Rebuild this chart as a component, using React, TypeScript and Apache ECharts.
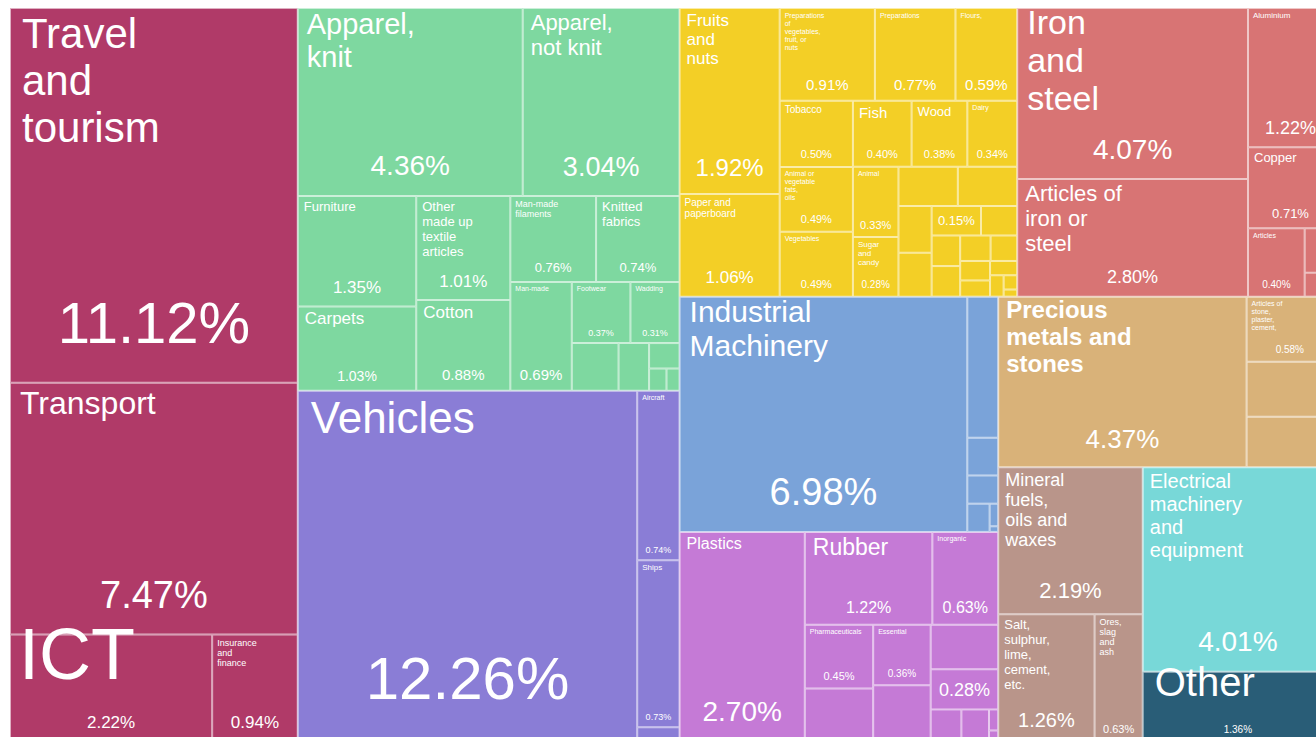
import React, { useEffect, useRef } from "react";
import * as echarts from "echarts";

// ---------------- data (share of exports, %) ----------------
const servicesNames = ["Travel and tourism", "Transport", "ICT", "Insurance and finance"];
const servicesValues = [11.12, 7.47, 2.22, 0.94];

const textileNames = [
  "Apparel, knit", "Apparel, not knit", "Furniture", "Carpets", "Other made up textile articles",
  "Cotton", "Man-made filaments", "Knitted fabrics", "Man-made staple fibres", "Footwear", "Wadding",
  "Special woven fabrics", "Impregnated textile fabrics", "Wool", "Headgear", "Umbrellas",
];
const textileValues = [4.36, 3.04, 1.35, 1.03, 1.01, 0.88, 0.76, 0.74, 0.69, 0.37, 0.31, 0.23, 0.15, 0.08, 0.04, 0.03];

const vehicleNames = ["Vehicles", "Aircraft", "Ships", "Railway"];
const vehicleValues = [12.26, 0.74, 0.73, 0.06];

const agriNames = [
  "Fruits and nuts", "Paper and paperboard", "Preparations of vegetables, fruit, or nuts", "Preparations",
  "Flours,", "Tobacco", "Animal or vegetable fats, oils", "Vegetables", "Fish", "Wood", "Dairy", "Animal",
  "Sugar and candy", "Beverages", "Coffee and tea", "Books", "Meat", "Cereals", "Live plants", "Cocoa",
  "Oil seeds", "Meat preparations", "Printed matter", "Straw", "Live animals", "Cork", "Gums and resins",
  "Pulp of wood", "Vegetable products",
];
const agriValues = [
  1.92, 1.06, 0.91, 0.77, 0.59, 0.5, 0.49, 0.49, 0.4, 0.38, 0.34, 0.33, 0.28, 0.24, 0.24, 0.16, 0.15, 0.15,
  0.11, 0.09, 0.09, 0.08, 0.07, 0.06, 0.05, 0.04, 0.03, 0.02, 0.01,
];

const metalNames = ["Iron and steel", "Articles of iron or steel", "Aluminium", "Copper", "Articles", "Tools", "Zinc", "Nickel"];
const metalValues = [4.07, 2.8, 1.22, 0.71, 0.4, 0.13, 0.04, 0.03];

const machineryNames = ["Industrial Machinery", "Optical and medical instruments", "Arms", "Clocks", "Musical instruments", "Toys", "Other machinery"];
const machineryValues = [6.98, 0.45, 0.12, 0.09, 0.065, 0.02, 0.005];

const chemicalNames = [
  "Plastics", "Rubber", "Inorganic", "Pharmaceuticals", "Organic chemicals", "Essential oils", "Soaps",
  "Paints", "Miscellaneous chemicals", "Fertilizers", "Tanning extracts", "Photographic goods", "Explosives",
];
const chemicalValues = [2.7, 1.22, 0.63, 0.45, 0.37, 0.36, 0.33, 0.31, 0.28, 0.1, 0.09, 0.02, 0.01];

const stoneNames = ["Precious metals and stones", "Articles of stone, plaster, cement,", "Ceramic products", "Glass"];
const stoneValues = [4.37, 0.58, 0.49, 0.45];

const mineralNames = ["Mineral fuels, oils and waxes", "Salt, sulphur, lime, cement, etc.", "Ores, slag and ash"];
const mineralValues = [2.19, 1.26, 0.63];

const electronicsNames = ["Electrical machinery and equipment"];
const electronicsValues = [4.01];

const otherNames = ["Other"];
const otherValues = [1.36];

// ---------------- styles ----------------
const COLORS = {
  services: "#b03a68",
  textiles: "#7ed8a0",
  vehicles: "#8a7dd6",
  agri: "#f3cf26",
  machinery: "#7aa3d9",
  metals: "#d87474",
  stone: "#d9b279",
  chemicals: "#c57ad6",
  minerals: "#b9958a",
  electronics: "#78d8d8",
  other: "#295d77",
};
const T = "rgba(0,0,0,0)";
const FONT = "'Liberation Sans', Arial, Helvetica, sans-serif";

type LabelStyle = { text?: string; name: number; pct: number; bold?: boolean; padL?: number; dy?: number };
const labelStyles: Record<string, LabelStyle> = {
  "Travel and tourism": { text: "Travel\nand\ntourism", name: 42, pct: 58 },
  Transport: { name: 32, pct: 38 },
  ICT: { name: 72, pct: 17, padL: 8, dy: -23 },
  "Insurance and finance": { text: "Insurance\nand\nfinance", name: 9, pct: 17 },
  "Apparel, knit": { text: "Apparel,\nknit", name: 29, pct: 28, dy: -3 },
  "Apparel, not knit": { text: "Apparel,\nnot knit", name: 22, pct: 27 },
  Furniture: { name: 13, pct: 17 },
  Carpets: { name: 17, pct: 14 },
  "Other made up textile articles": { text: "Other\nmade up\ntextile\narticles", name: 13, pct: 17 },
  Cotton: { name: 17, pct: 15 },
  "Man-made filaments": { text: "Man-made\nfilaments", name: 9, pct: 13 },
  "Knitted fabrics": { text: "Knitted\nfabrics", name: 13, pct: 13 },
  "Man-made staple fibres": { text: "Man-made", name: 7, pct: 15 },
  Footwear: { name: 7, pct: 9 },
  Wadding: { name: 7, pct: 9 },
  Vehicles: { name: 44, pct: 60 },
  Aircraft: { name: 7, pct: 9 },
  Ships: { name: 8, pct: 9 },
  "Fruits and nuts": { text: "Fruits\nand\nnuts", name: 17, pct: 24 },
  "Paper and paperboard": { text: "Paper and\npaperboard", name: 10, pct: 17 },
  "Preparations of vegetables, fruit, or nuts": { text: "Preparations\nof\nvegetables,\nfruit, or\nnuts", name: 7, pct: 15 },
  Preparations: { name: 7, pct: 15 },
  "Flours,": { name: 7, pct: 15 },
  Tobacco: { name: 10, pct: 11 },
  "Animal or vegetable fats, oils": { text: "Animal or\nvegetable\nfats,\noils", name: 7, pct: 11 },
  Vegetables: { name: 7, pct: 11 },
  Fish: { name: 15, pct: 11 },
  Wood: { name: 13, pct: 11 },
  Dairy: { name: 7, pct: 11 },
  Animal: { name: 7, pct: 11 },
  "Sugar and candy": { text: "Sugar\nand\ncandy", name: 8, pct: 10 },
  Cereals: { name: 0, pct: 13 },
  "Industrial Machinery": { text: "Industrial\nMachinery", name: 30, pct: 38, dy: -4 },
  Plastics: { name: 16, pct: 28 },
  Rubber: { name: 23, pct: 16 },
  Inorganic: { name: 7, pct: 16 },
  Pharmaceuticals: { name: 7, pct: 11 },
  "Essential oils": { text: "Essential", name: 7, pct: 10 },
  "Miscellaneous chemicals": { name: 0, pct: 18 },
  "Iron and steel": { text: "Iron\nand\nsteel", name: 34, pct: 28, dy: -7 },
  "Articles of iron or steel": { text: "Articles of\niron or\nsteel", name: 22, pct: 18 },
  Aluminium: { name: 8, pct: 18 },
  Copper: { name: 13, pct: 13 },
  Articles: { name: 7, pct: 10 },
  "Precious metals and stones": { text: "Precious\nmetals and\nstones", name: 24, pct: 26, bold: true, dy: -3 },
  "Articles of stone, plaster, cement,": { text: "Articles of\nstone,\nplaster,\ncement,", name: 7, pct: 10 },
  "Mineral fuels, oils and waxes": { text: "Mineral\nfuels,\noils and\nwaxes", name: 18, pct: 22 },
  "Salt, sulphur, lime, cement, etc.": { text: "Salt,\nsulphur,\nlime,\ncement,\netc.", name: 13, pct: 20 },
  "Ores, slag and ash": { text: "Ores,\nslag\nand\nash", name: 9, pct: 11 },
  "Electrical machinery and equipment": { text: "Electrical\nmachinery\nand\nequipment", name: 20, pct: 28 },
  Other: { name: 40, pct: 10, dy: -14 },
};

// ---------------- tree building ----------------
function leaf(name: string, value: number, overlay: boolean) {
  const st = labelStyles[name];
  const item: any = { name, value };
  if (overlay) {
    item.itemStyle = { color: T, borderColor: T, borderWidth: 1 };
    if (st && st.pct > 0) {
      item.label = {
        show: true,
        position: "insideBottom",
        fontSize: st.pct,
        lineHeight: Math.round(st.pct * 1.15),
        padding: [0, 0, Math.round(st.pct * 0.45), 0],
        overflow: "none",
      };
    } else item.label = { show: false };
  } else {
    item.itemStyle = { borderWidth: 1, borderColor: "rgba(255,255,255,0.6)" };
    if (st && st.name > 0) {
      const padL = st.padL != null ? st.padL : Math.round(2 + st.name * 0.22);
      item.label = {
        show: true,
        position: "insideTopLeft",
        fontSize: st.name,
        lineHeight: Math.round(st.name * 1.13),
        fontWeight: st.bold ? "bold" : "normal",
        padding: [st.name >= 20 ? 1 : 2, 1, 0, padL],
        overflow: "break",
        offset: [0, st.dy || 0],
      };
    } else item.label = { show: false };
  }
  return item;
}

function sector(names: string[], values: number[], color: string, overlay: boolean) {
  return {
    name: "",
    itemStyle: overlay ? { color: T, borderColor: T, borderWidth: 0 } : { color, borderColor: color, borderWidth: 0 },
    children: names.map((n, i) => leaf(n, values[i], overlay)),
  };
}

function pair(a: any, b: any) {
  return { name: "", children: [a, b] };
}

function buildTree(overlay: boolean) {
  const S = (n: string[], v: number[], c: string) => sector(n, v, c, overlay);
  return [
    S(servicesNames, servicesValues, COLORS.services),
    pair(
      pair(S(textileNames, textileValues, COLORS.textiles), S(vehicleNames, vehicleValues, COLORS.vehicles)),
      pair(
        pair(S(agriNames, agriValues, COLORS.agri), S(metalNames, metalValues, COLORS.metals)),
        pair(
          pair(S(machineryNames, machineryValues, COLORS.machinery), S(chemicalNames, chemicalValues, COLORS.chemicals)),
          pair(
            S(stoneNames, stoneValues, COLORS.stone),
            pair(
              S(mineralNames, mineralValues, COLORS.minerals),
              pair(S(electronicsNames, electronicsValues, COLORS.electronics), S(otherNames, otherValues, COLORS.other))
            )
          )
        )
      )
    ),
  ];
}

export default function App() {
  const ref = useRef<HTMLDivElement>(null);
  useEffect(() => {
    if (!ref.current) return;
    document.body.style.margin = "0";
    document.body.style.overflow = "hidden";
    const chart = echarts.init(ref.current, undefined, { renderer: "svg" });
    const common: any = {
      type: "treemap",
      left: 10,
      top: 8,
      width: 1323,
      height: 733,
      sort: false,
      squareRatio: 1,
      roam: false,
      nodeClick: false,
      visibleMin: 0,
      breadcrumb: { show: false },
      upperLabel: { show: false },
      emphasis: { disabled: true },
    };
    chart.setOption({
      animation: false,
      backgroundColor: "#ffffff",
      tooltip: { show: false },
      series: [
        {
          ...common,
          itemStyle: { borderWidth: 0, gapWidth: 0, borderColor: "#ffffff" },
          levels: [{ itemStyle: { borderWidth: 0, gapWidth: 0 } }],
          label: {
            show: true,
            color: "#ffffff",
            fontFamily: FONT,
            formatter: (p: any) => {
              const st = labelStyles[p.name];
              return st && st.text ? st.text : p.name;
            },
          },
          data: buildTree(false),
        },
        {
          ...common,
          silent: true,
          itemStyle: { borderWidth: 0, gapWidth: 0, borderColor: T, color: T },
          levels: [{ color: [T], itemStyle: { borderWidth: 0, gapWidth: 0, borderColor: T } }],
          label: {
            show: true,
            color: "#ffffff",
            fontFamily: FONT,
            formatter: (p: any) => Number(p.value).toFixed(2) + "%",
          },
          data: buildTree(true),
        },
      ],
    });
    return () => chart.dispose();
  }, []);
  return (
    <div
      ref={ref}
      style={{ position: "relative", width: 1316, height: 737, background: "#ffffff", overflow: "hidden" }}
    />
  );
}
